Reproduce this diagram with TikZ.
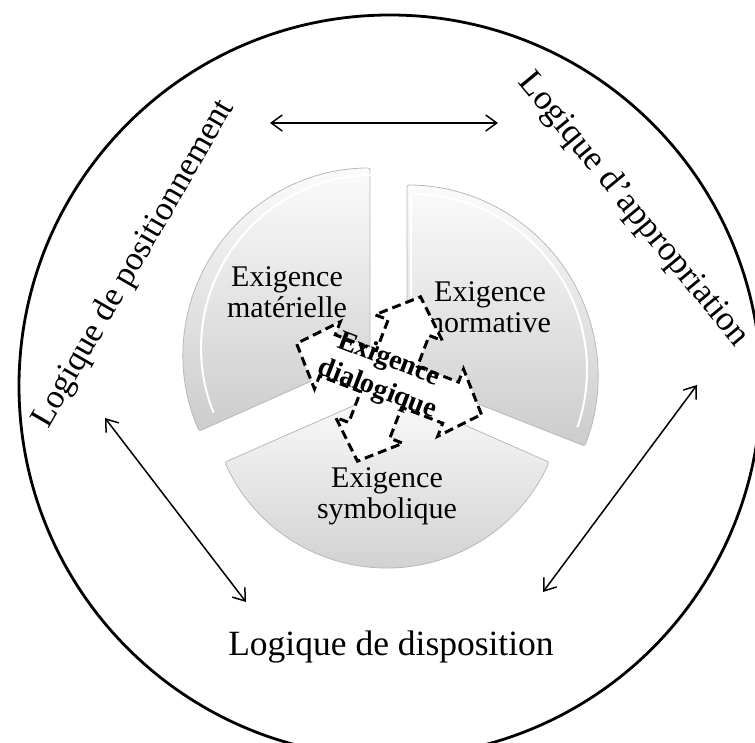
\documentclass[tikz,border=0pt]{standalone}
\usepackage{fontspec}
\setmainfont{Liberation Serif}
\usetikzlibrary{arrows.meta}
\begin{document}
\begin{tikzpicture}[x=1pt,y=1pt,
    seg/.style={top color=gray!3,bottom color=gray!40,draw=gray!55,line width=0.8pt,rounded corners=2pt},
    bevel/.style={draw=white,line width=2pt,rounded corners=2pt},
    seglabel/.style={align=center,font=\fontsize{30}{31}\selectfont},
    logic/.style={font=\fontsize{35.5}{40}\selectfont},
    dialog/.style={fill=white,draw=black,line width=3pt,dash pattern=on 9pt off 5pt},
    link/.style={{Straight Barb[length=11pt,width=16pt]}-{Straight Barb[length=11pt,width=16pt]},line width=1.5pt}]
  \useasboundingbox (0,0) rectangle (755,742);
  % outer ring
  \draw[line width=2.8pt] (390,356) circle[radius=371pt];
  % the three segments
  \path[seg] (370,387) -- ++(90:187pt) arc[start angle=90,end angle=204,radius=187pt] -- cycle;
  \path[seg] (407,366) -- ++(-21.5:191pt) arc[start angle=-21.5,end angle=90,radius=191pt] -- cycle;
  \path[seg] (387,351) -- ++(203.7:177pt) arc[start angle=203.7,end angle=336.3,radius=177pt] -- cycle;
  \path[bevel] (374,394) -- ++(90:173pt) arc[start angle=90,end angle=202,radius=173pt];
  \path[bevel] (411,372) -- ++(90:176pt) arc[start angle=90,end angle=-19,radius=176pt];
  \path[bevel] (387,358) ++(205:170pt) -- (387,358) -- ++(335:170pt);
  \node[seglabel] (mat) at (287,450) {Exigence\\matérielle};
  \node[seglabel] (norm) at (490,435) {Exigence\\normative};
  \node[seglabel] (symb) at (387,246) {Exigence\\symbolique};
  % four-way arrow
  \begin{scope}[shift={(389,363)},rotate=-21]
    \draw[dialog] (99,0) -- (66,36) -- (66,22) -- (22,22) -- (22,55) -- (36,55) -- (0,88)
      -- (-36,55) -- (-22,55) -- (-22,22) -- (-66,22) -- (-66,36) -- (-99,0)
      -- (-66,-36) -- (-66,-22) -- (-22,-22) -- (-22,-55) -- (-36,-55) -- (0,-88)
      -- (36,-55) -- (22,-55) -- (22,-22) -- (66,-22) -- (66,-36) -- cycle;
  \end{scope}
  \node[align=center,rotate=-21,font=\fontsize{28}{32}\selectfont\bfseries] (dial) at (383,367) {Exigence\\dialogique};
  % logics
  \node[logic,rotate=60,font=\fontsize{34}{40}\selectfont] (pos) at (134,478) {Logique de positionnement};
  \node[logic,rotate=-50.5,font=\fontsize{35}{40}\selectfont] (appr) at (633,532) {Logique d’appropriation};
  \node[logic] (disp) at (391,95) {Logique de disposition};
  \coordinate (pa) at (270,619);
  \coordinate (aa) at (498,619);
  \coordinate (pd) at (105,324);
  \coordinate (dp) at (246,140);
  \coordinate (ad) at (697,357);
  \coordinate (da) at (543,150);
  \draw[link] (pa) -- (aa);
  \draw[link] (pd) -- (dp);
  \draw[link] (ad) -- (da);
\end{tikzpicture}
\end{document}
